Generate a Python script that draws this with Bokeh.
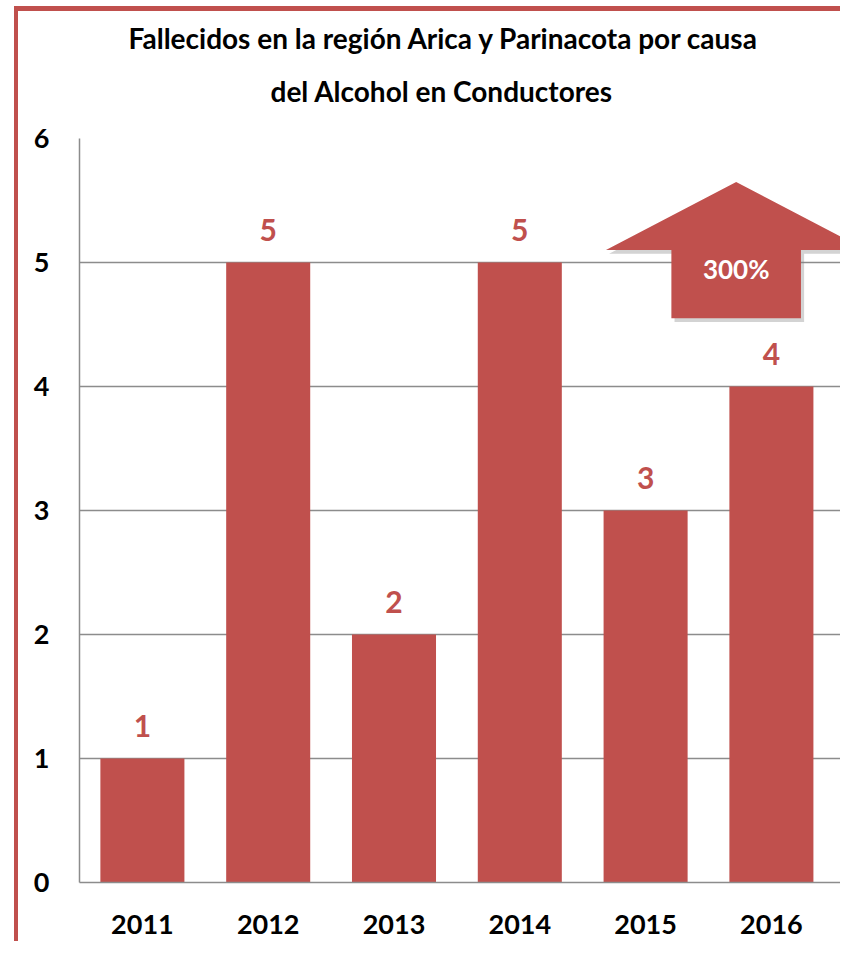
from bokeh.plotting import figure
from bokeh.models import FixedTicker, Title, ColumnDataSource
from bokeh.core.properties import value
from bokeh.embed import file_html
from bokeh.resources import INLINE

# ---- data ----
years = ["2011", "2012", "2013", "2014", "2015", "2016"]
deaths = [1, 5, 2, 5, 3, 4]
y_ticks = [0, 1, 2, 3, 4, 5, 6]
change_label = "300%"
title_line1 = "Fallecidos en la región Arica y Parinacota por causa"
title_line2 = "del Alcohol en Conductores"

RED = "#C0504D"
GRID = "#8C8C8C"
FONT = "Lato"

x_pos = [i + 0.5 for i in range(len(years))]
src = ColumnDataSource(dict(x=x_pos, y=deaths, label=[str(v) for v in deaths]))

W, H = 826, 935
LEFT, BOTTOM = 61, 64
PX_PER_CAT = 125.8
p = figure(width=W, height=H, x_range=(0, (W - LEFT) / PX_PER_CAT), y_range=(0, 6),
           output_backend="svg", toolbar_location=None,
           min_border_left=LEFT, min_border_right=0, min_border_top=127,
           min_border_bottom=BOTTOM,
           styles={"border-left": f"4px solid {RED}", "border-top": f"5px solid {RED}",
                   "position": "relative", "left": "14px", "top": "6px"})
p.outline_line_color = None
p.background_fill_color = "white"
p.border_fill_color = "white"

# titles (line 2 added first = closest to plot)
p.add_layout(Title(text=title_line2, align="left", offset=191, text_font=FONT,
                   text_font_size="28px", text_font_style="bold", text_color="black",
                   standoff=61), "above")
p.add_layout(Title(text=title_line1, align="left", offset=49, text_font=FONT,
                   text_font_size="28px", text_font_style="bold", text_color="black",
                   standoff=-27), "above")

# bars
p.vbar(x="x", top="y", width=0.668, bottom=0, source=src, fill_color=RED, line_color=None)

# value labels
p.text(x="x", y="y", text="label", source=src, text_align="center",
       text_baseline="alphabetic", y_offset=-33, text_color=RED,
       text_font=value(FONT), text_font_size="30px", text_font_style="bold")

# arrow annotation near last category
cx = x_pos[-1] - 0.28
head_half = 1.035
shaft_half = 0.515
y_tip, y_head, y_bot = 5.65, 5.10, 4.55
arrow_xs = [cx - shaft_half, cx - shaft_half, cx - head_half, cx, cx + head_half,
            cx + shaft_half, cx + shaft_half]
arrow_ys = [y_bot, y_head, y_head, y_tip, y_head, y_head, y_bot]
p.patch([x + 0.025 for x in arrow_xs], [y - 0.03 for y in arrow_ys],
        fill_color="#808080", fill_alpha=0.35, line_color=None)
p.patch(arrow_xs, arrow_ys, fill_color=RED, line_color=None)
p.text(x=[cx], y=[(y_head + y_bot) / 2 + 0.12], text=[change_label], text_align="center",
       text_baseline="middle", text_color="white", text_font=value(FONT),
       text_font_size="26px", text_font_style="bold")

# axes
p.xaxis.ticker = FixedTicker(ticks=x_pos)
p.xaxis.major_label_overrides = {x: y for x, y in zip(x_pos, years)}
p.yaxis.ticker = FixedTicker(ticks=y_ticks)
for ax in (p.xaxis[0], p.yaxis[0]):
    ax.axis_line_color = GRID
    ax.axis_line_width = 1.5
    ax.major_tick_line_color = None
    ax.minor_tick_line_color = None
    ax.major_label_text_font = FONT
    ax.major_label_text_font_size = "27px"
    ax.major_label_text_font_style = "bold"
    ax.major_label_text_color = "black"
p.xaxis.major_label_standoff = 26
p.yaxis.major_label_standoff = 24

p.xgrid.grid_line_color = None
p.ygrid.grid_line_color = GRID
p.ygrid.grid_line_width = 1.3
p.ygrid.ticker = FixedTicker(ticks=y_ticks)

open("out.html", "w").write(file_html(p, INLINE))
